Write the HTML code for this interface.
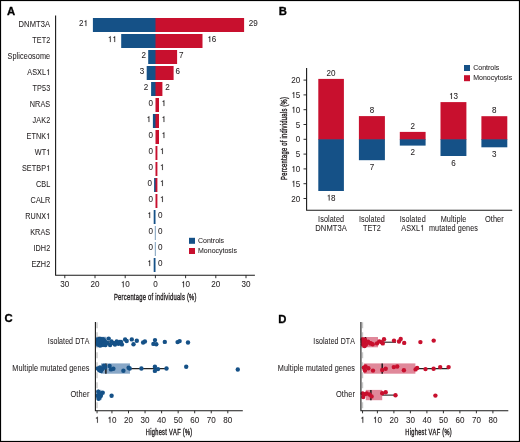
<!DOCTYPE html>
<html><head><meta charset="utf-8"><style>
html,body{margin:0;padding:0;background:#fff}
svg{display:block;will-change:transform}
text{font-family:"Liberation Sans", sans-serif;font-kerning:none;fill:#231f20;stroke:#231f20;stroke-width:0.06px}
.cond{stroke-width:0.4px}
.pl{stroke-width:0.3px;fill:#000;stroke:#000}
</style></head><body>
<svg width="520" height="442" viewBox="0 0 520 442">
<rect x="0" y="0" width="520" height="442" fill="#fff"/>
<g>
<rect x="92.90" y="18" width="63.20" height="14" fill="#155187"/>
<rect x="155.50" y="18" width="88.60" height="14" fill="#c8102e"/>
<text transform="translate(18.55 27.00) scale(0.925 1)" font-size="8.2" style="letter-spacing:0.1px">DNMT3A</text>
<text transform="translate(78.91 26.10) scale(0.962 1)" font-size="8.4">2</text>
<path d="M85.60 26.10H86.33V20.16H85.77C85.64 20.81 85.18 21.08 84.50 21.13V21.69H85.60Z" fill="#231f20" stroke="#231f20" stroke-width="0.12"/>
<text transform="translate(248.70 26.10) scale(0.962 1)" font-size="8.4">29</text>
<rect x="121.20" y="34" width="34.90" height="14" fill="#155187"/>
<rect x="155.50" y="34" width="47.00" height="14" fill="#c8102e"/>
<text transform="translate(32.19 43.00) scale(0.885 1)" font-size="8.2" style="letter-spacing:0.1px">TET2</text>
<path d="M109.91 42.10H110.64V36.16H110.07C109.94 36.81 109.49 37.08 108.80 37.13V37.69H109.91ZM114.40 42.10H115.13V36.16H114.57C114.44 36.81 113.98 37.08 113.30 37.13V37.69H114.40Z" fill="#231f20" stroke="#231f20" stroke-width="0.12"/>
<text transform="translate(211.79 42.10) scale(0.962 1)" font-size="8.4">6</text>
<path d="M209.50 42.10H210.23V36.16H209.66C209.53 36.81 209.08 37.08 208.39 37.13V37.69H209.50Z" fill="#231f20" stroke="#231f20" stroke-width="0.12"/>
<rect x="148.20" y="50" width="7.90" height="14" fill="#155187"/>
<rect x="155.50" y="50" width="21.60" height="14" fill="#c8102e"/>
<text transform="translate(7.53 59.00) scale(0.89 1)" font-size="8.2" style="letter-spacing:0.1px">Spliceosome</text>
<text transform="translate(141.51 58.10) scale(0.962 1)" font-size="8.4">2</text>
<text transform="translate(179.10 58.10) scale(0.962 1)" font-size="8.4">7</text>
<rect x="146.70" y="66" width="9.40" height="14" fill="#155187"/>
<rect x="155.50" y="66" width="18.10" height="14" fill="#c8102e"/>
<text transform="translate(27.25 75.00) scale(0.885 1)" font-size="8.2" style="letter-spacing:0.1px">ASXL</text>
<path d="M48.14 75.00H48.79V69.20H48.28C48.17 69.83 47.76 70.10 47.14 70.15V70.69H48.14Z" fill="#231f20" stroke="#231f20" stroke-width="0.12"/>
<text transform="translate(139.81 74.10) scale(0.962 1)" font-size="8.4">3</text>
<text transform="translate(175.50 74.10) scale(0.962 1)" font-size="8.4">6</text>
<rect x="151.10" y="82" width="5.00" height="14" fill="#155187"/>
<rect x="155.50" y="82" width="6.90" height="14" fill="#c8102e"/>
<text transform="translate(32.59 91.00) scale(0.885 1)" font-size="8.2" style="letter-spacing:0.1px">TP53</text>
<text transform="translate(143.81 90.10) scale(0.962 1)" font-size="8.4">2</text>
<text transform="translate(165.30 90.10) scale(0.962 1)" font-size="8.4">2</text>
<rect x="155.50" y="98" width="3.50" height="14" fill="#c8102e"/>
<text transform="translate(29.77 107.00) scale(0.885 1)" font-size="8.2" style="letter-spacing:0.1px">NRAS</text>
<text transform="translate(148.61 106.10) scale(0.962 1)" font-size="8.4">0</text>
<path d="M163.60 106.10H164.33V100.16H163.76C163.63 100.81 163.18 101.08 162.49 101.13V101.69H163.60Z" fill="#231f20" stroke="#231f20" stroke-width="0.12"/>
<rect x="152.90" y="114" width="3.20" height="14" fill="#155187"/>
<rect x="155.50" y="114" width="3.50" height="14" fill="#c8102e"/>
<text transform="translate(32.59 123.00) scale(0.885 1)" font-size="8.2" style="letter-spacing:0.1px">JAK2</text>
<path d="M148.60 122.10H149.33V116.16H148.77C148.64 116.81 148.18 117.08 147.50 117.13V117.69H148.60Z" fill="#231f20" stroke="#231f20" stroke-width="0.12"/>
<path d="M163.60 122.10H164.33V116.16H163.76C163.63 116.81 163.18 117.08 162.49 117.13V117.69H163.60Z" fill="#231f20" stroke="#231f20" stroke-width="0.12"/>
<rect x="155.50" y="130" width="3.50" height="14" fill="#c8102e"/>
<text transform="translate(26.46 139.00) scale(0.885 1)" font-size="8.2" style="letter-spacing:0.1px">ETNK</text>
<path d="M48.14 139.00H48.79V133.20H48.28C48.17 133.83 47.76 134.10 47.14 134.15V134.69H48.14Z" fill="#231f20" stroke="#231f20" stroke-width="0.12"/>
<text transform="translate(148.61 138.10) scale(0.962 1)" font-size="8.4">0</text>
<path d="M163.60 138.10H164.33V132.16H163.76C163.63 132.81 163.18 133.08 162.49 133.13V133.69H163.60Z" fill="#231f20" stroke="#231f20" stroke-width="0.12"/>
<rect x="155.50" y="146" width="1.90" height="14" fill="#c8102e"/>
<text transform="translate(34.70 155.00) scale(0.885 1)" font-size="8.2" style="letter-spacing:0.1px">WT</text>
<path d="M48.14 155.00H48.79V149.20H48.28C48.17 149.83 47.76 150.10 47.14 150.15V150.69H48.14Z" fill="#231f20" stroke="#231f20" stroke-width="0.12"/>
<text transform="translate(148.61 154.10) scale(0.962 1)" font-size="8.4">0</text>
<path d="M162.00 154.10H162.73V148.16H162.16C162.03 148.81 161.58 149.08 160.89 149.13V149.69H162.00Z" fill="#231f20" stroke="#231f20" stroke-width="0.12"/>
<rect x="155.50" y="162" width="1.90" height="14" fill="#c8102e"/>
<text transform="translate(21.93 171.00) scale(0.885 1)" font-size="8.2" style="letter-spacing:0.1px">SETBP</text>
<path d="M48.14 171.00H48.79V165.20H48.28C48.17 165.83 47.76 166.10 47.14 166.15V166.69H48.14Z" fill="#231f20" stroke="#231f20" stroke-width="0.12"/>
<text transform="translate(148.61 170.10) scale(0.962 1)" font-size="8.4">0</text>
<path d="M162.00 170.10H162.73V164.16H162.16C162.03 164.81 161.58 165.08 160.89 165.13V165.69H162.00Z" fill="#231f20" stroke="#231f20" stroke-width="0.12"/>
<rect x="154.10" y="178" width="2.00" height="14" fill="#155187"/>
<rect x="155.50" y="178" width="1.90" height="14" fill="#c8102e"/>
<text transform="translate(35.91 187.00) scale(0.885 1)" font-size="8.2" style="letter-spacing:0.1px">CBL</text>
<text transform="translate(147.41 186.10) scale(0.962 1)" font-size="8.4">0</text>
<path d="M162.00 186.10H162.73V180.16H162.16C162.03 180.81 161.58 181.08 160.89 181.13V181.69H162.00Z" fill="#231f20" stroke="#231f20" stroke-width="0.12"/>
<rect x="155.50" y="194" width="1.90" height="14" fill="#c8102e"/>
<text transform="translate(30.58 203.00) scale(0.885 1)" font-size="8.2" style="letter-spacing:0.1px">CALR</text>
<text transform="translate(148.61 202.10) scale(0.962 1)" font-size="8.4">0</text>
<path d="M162.00 202.10H162.73V196.16H162.16C162.03 196.81 161.58 197.08 160.89 197.13V197.69H162.00Z" fill="#231f20" stroke="#231f20" stroke-width="0.12"/>
<rect x="153.70" y="210" width="1.80" height="14" fill="#155187"/>
<text transform="translate(25.25 219.00) scale(0.885 1)" font-size="8.2" style="letter-spacing:0.1px">RUNX</text>
<path d="M48.14 219.00H48.79V213.20H48.28C48.17 213.83 47.76 214.10 47.14 214.15V214.69H48.14Z" fill="#231f20" stroke="#231f20" stroke-width="0.12"/>
<path d="M149.40 218.10H150.13V212.16H149.57C149.44 212.81 148.98 213.08 148.30 213.13V213.69H149.40Z" fill="#231f20" stroke="#231f20" stroke-width="0.12"/>
<text transform="translate(157.90 218.10) scale(0.962 1)" font-size="8.4">0</text>
<rect x="154.85" y="226" width="0.8" height="14" fill="#155187" opacity="0.7"/>
<text transform="translate(30.17 235.00) scale(0.885 1)" font-size="8.2" style="letter-spacing:0.1px">KRAS</text>
<text transform="translate(148.61 234.10) scale(0.962 1)" font-size="8.4">0</text>
<text transform="translate(157.90 234.10) scale(0.962 1)" font-size="8.4">0</text>
<rect x="154.85" y="242" width="0.8" height="14" fill="#155187" opacity="0.7"/>
<text transform="translate(33.40 251.00) scale(0.885 1)" font-size="8.2" style="letter-spacing:0.1px">IDH2</text>
<text transform="translate(148.61 250.10) scale(0.962 1)" font-size="8.4">0</text>
<text transform="translate(157.90 250.10) scale(0.962 1)" font-size="8.4">0</text>
<rect x="153.70" y="258" width="1.80" height="14" fill="#155187"/>
<text transform="translate(31.38 267.00) scale(0.885 1)" font-size="8.2" style="letter-spacing:0.1px">EZH2</text>
<path d="M149.40 266.10H150.13V260.16H149.57C149.44 260.81 148.98 261.08 148.30 261.13V261.69H149.40Z" fill="#231f20" stroke="#231f20" stroke-width="0.12"/>
<text transform="translate(157.90 266.10) scale(0.962 1)" font-size="8.4">0</text>
</g>
<path d="M55.6 15.5V275.2H254.9" fill="none" stroke="#1a1a1a" stroke-width="1.1"/>
<text transform="translate(60.31 287.20) scale(0.962 1)" font-size="8.4">30</text>
<text transform="translate(90.51 287.20) scale(0.962 1)" font-size="8.4">20</text>
<text transform="translate(125.20 287.20) scale(0.962 1)" font-size="8.4">0</text>
<path d="M122.90 287.20H123.63V281.26H123.07C122.94 281.91 122.48 282.18 121.80 282.23V282.79H122.90Z" fill="#231f20" stroke="#231f20" stroke-width="0.12"/>
<text transform="translate(153.15 287.20) scale(0.962 1)" font-size="8.4">0</text>
<text transform="translate(185.60 287.20) scale(0.962 1)" font-size="8.4">0</text>
<path d="M183.30 287.20H184.03V281.26H183.47C183.34 281.91 182.88 282.18 182.20 282.23V282.79H183.30Z" fill="#231f20" stroke="#231f20" stroke-width="0.12"/>
<text transform="translate(211.31 287.20) scale(0.962 1)" font-size="8.4">20</text>
<text transform="translate(241.51 287.20) scale(0.962 1)" font-size="8.4">30</text>
<path d="M64.80 275.2V278.2M95.00 275.2V278.2M125.20 275.2V278.2M155.40 275.2V278.2M185.60 275.2V278.2M215.80 275.2V278.2M246.00 275.2V278.2" stroke="#1a1a1a" stroke-width="0.9"/>
<text transform="translate(155.20 299.60) scale(0.62 1)" x="0" y="0" font-size="9.4" text-anchor="middle" textLength="133.06" lengthAdjust="spacing" class="cond">Percentage of individuals (%)</text>
<rect x="189" y="237.8" width="6" height="6" fill="#155187"/>
<rect x="189" y="248" width="6" height="6" fill="#c8102e"/>
<text transform="translate(198.00 243.10) scale(0.91 1)" font-size="7.7">Controls</text>
<text transform="translate(198.00 253.20) scale(0.91 1)" font-size="7.7">Monocytosis</text>
<text x="7.00" y="14.80" font-size="11.3" font-weight="bold" class="pl">A</text>
<text x="278.70" y="14.80" font-size="11.3" font-weight="bold" class="pl">B</text>
<path d="M306.6 67.9V210.3H512.2" fill="none" stroke="#1a1a1a" stroke-width="1.1"/>
<text transform="translate(291.31 83.10) scale(0.962 1)" font-size="8.4">20</text>
<text transform="translate(295.81 97.90) scale(0.962 1)" font-size="8.4">5</text>
<path d="M293.51 97.90H294.24V91.96H293.67C293.54 92.61 293.09 92.88 292.40 92.93V93.49H293.51Z" fill="#231f20" stroke="#231f20" stroke-width="0.12"/>
<text transform="translate(295.81 112.70) scale(0.962 1)" font-size="8.4">0</text>
<path d="M293.51 112.70H294.24V106.76H293.67C293.54 107.41 293.09 107.68 292.40 107.73V108.29H293.51Z" fill="#231f20" stroke="#231f20" stroke-width="0.12"/>
<text transform="translate(295.81 127.50) scale(0.962 1)" font-size="8.4">5</text>
<text transform="translate(295.81 142.30) scale(0.962 1)" font-size="8.4">0</text>
<text transform="translate(295.81 157.10) scale(0.962 1)" font-size="8.4">5</text>
<text transform="translate(295.81 171.90) scale(0.962 1)" font-size="8.4">0</text>
<path d="M293.51 171.90H294.24V165.96H293.67C293.54 166.61 293.09 166.88 292.40 166.93V167.49H293.51Z" fill="#231f20" stroke="#231f20" stroke-width="0.12"/>
<text transform="translate(295.81 186.70) scale(0.962 1)" font-size="8.4">5</text>
<path d="M293.51 186.70H294.24V180.76H293.67C293.54 181.41 293.09 181.68 292.40 181.73V182.29H293.51Z" fill="#231f20" stroke="#231f20" stroke-width="0.12"/>
<text transform="translate(291.31 201.50) scale(0.962 1)" font-size="8.4">20</text>
<path d="M303.5 80.10H306.6M303.5 94.90H306.6M303.5 109.70H306.6M303.5 124.50H306.6M303.5 139.30H306.6M303.5 154.10H306.6M303.5 168.90H306.6M303.5 183.70H306.6M303.5 198.50H306.6" stroke="#1a1a1a" stroke-width="0.9"/>
<text transform="translate(286.90 138.50) rotate(-90) scale(0.62 1)" x="0" y="0" font-size="9.4" text-anchor="middle" textLength="133.87" lengthAdjust="spacing" class="cond">Percentage of individuals (%)</text>
<rect x="318.3" y="78.9" width="25.60" height="61.00" fill="#c8102e"/>
<rect x="318.3" y="139.3" width="25.60" height="51.70" fill="#155187"/>
<text transform="translate(326.61 75.70) scale(0.962 1)" font-size="8.4">20</text>
<text transform="translate(331.10 200.60) scale(0.962 1)" font-size="8.4">8</text>
<path d="M328.80 200.60H329.53V194.66H328.97C328.84 195.31 328.38 195.58 327.70 195.63V196.19H328.80Z" fill="#231f20" stroke="#231f20" stroke-width="0.12"/>
<text transform="translate(318.08 221.60) scale(0.885 1)" font-size="8.2" style="letter-spacing:0.1px">Isolated</text>
<text transform="translate(315.28 230.70) scale(0.925 1)" font-size="8.2" style="letter-spacing:0.1px">DNMT3A</text>
<rect x="358.9" y="116.1" width="26.00" height="23.80" fill="#c8102e"/>
<rect x="358.9" y="139.3" width="26.00" height="20.90" fill="#155187"/>
<text transform="translate(369.65 112.90) scale(0.962 1)" font-size="8.4">8</text>
<text transform="translate(369.65 169.80) scale(0.962 1)" font-size="8.4">7</text>
<text transform="translate(358.88 221.60) scale(0.885 1)" font-size="8.2" style="letter-spacing:0.1px">Isolated</text>
<text transform="translate(362.90 230.70) scale(0.885 1)" font-size="8.2" style="letter-spacing:0.1px">TET2</text>
<rect x="399.8" y="131.9" width="25.80" height="8.00" fill="#c8102e"/>
<rect x="399.8" y="139.3" width="25.80" height="6.30" fill="#155187"/>
<text transform="translate(410.45 128.70) scale(0.962 1)" font-size="8.4">2</text>
<text transform="translate(410.45 155.20) scale(0.962 1)" font-size="8.4">2</text>
<text transform="translate(399.68 221.60) scale(0.885 1)" font-size="8.2" style="letter-spacing:0.1px">Isolated</text>
<text transform="translate(401.23 230.70) scale(0.885 1)" font-size="8.2" style="letter-spacing:0.1px">ASXL</text>
<path d="M422.11 230.70H422.76V224.90H422.26C422.14 225.53 421.73 225.80 421.12 225.85V226.39H422.11Z" fill="#231f20" stroke="#231f20" stroke-width="0.12"/>
<rect x="440.5" y="102.1" width="25.90" height="37.80" fill="#c8102e"/>
<rect x="440.5" y="139.3" width="25.90" height="16.70" fill="#155187"/>
<text transform="translate(453.45 98.90) scale(0.962 1)" font-size="8.4">3</text>
<path d="M451.15 98.90H451.88V92.96H451.32C451.19 93.61 450.73 93.88 450.05 93.93V94.49H451.15Z" fill="#231f20" stroke="#231f20" stroke-width="0.12"/>
<text transform="translate(451.20 165.60) scale(0.962 1)" font-size="8.4">6</text>
<text transform="translate(440.64 221.60) scale(0.885 1)" font-size="8.2" style="letter-spacing:0.1px">Multiple</text>
<text transform="translate(428.91 230.70) scale(0.885 1)" font-size="8.2" style="letter-spacing:0.1px">mutated genes</text>
<rect x="481.4" y="116.2" width="25.90" height="23.70" fill="#c8102e"/>
<rect x="481.4" y="139.3" width="25.90" height="8.00" fill="#155187"/>
<text transform="translate(492.10 113.00) scale(0.962 1)" font-size="8.4">8</text>
<text transform="translate(492.10 156.90) scale(0.962 1)" font-size="8.4">3</text>
<text transform="translate(484.89 221.60) scale(0.905 1)" font-size="8.2" style="letter-spacing:0.1px">Other</text>
<rect x="464" y="65" width="6" height="6" fill="#155187"/>
<rect x="464" y="75.2" width="6" height="6" fill="#c8102e"/>
<text transform="translate(473.20 70.30) scale(0.91 1)" font-size="7.7">Controls</text>
<text transform="translate(473.20 80.25) scale(0.91 1)" font-size="7.7">Monocytosis</text>
<text x="4.60" y="322.00" font-size="11.3" font-weight="bold" class="pl">C</text>
<path d="M97.00 322.2V410.5" stroke="#c8c8c8" stroke-width="1.4" stroke-dasharray="6 4"/>
<rect x="96.20" y="336.80" width="10.30" height="10.3" fill="#88a7c7"/>
<path d="M106.50 342.00H123.00" stroke="#222" stroke-width="1.1"/>
<path d="M99.10 336.80V347.10" stroke="#111" stroke-width="1.4"/>
<circle cx="97.50" cy="339.50" r="2.2" fill="#155187"/>
<circle cx="98.00" cy="344.50" r="2.2" fill="#155187"/>
<circle cx="99.50" cy="342.00" r="2.2" fill="#155187"/>
<circle cx="100.50" cy="339.00" r="2.2" fill="#155187"/>
<circle cx="101.50" cy="345.00" r="2.2" fill="#155187"/>
<circle cx="102.50" cy="341.50" r="2.2" fill="#155187"/>
<circle cx="103.50" cy="343.50" r="2.2" fill="#155187"/>
<circle cx="104.50" cy="340.50" r="2.2" fill="#155187"/>
<circle cx="105.50" cy="345.00" r="2.2" fill="#155187"/>
<circle cx="98.50" cy="341.00" r="2.2" fill="#155187"/>
<circle cx="100.00" cy="345.50" r="2.2" fill="#155187"/>
<circle cx="103.00" cy="339.30" r="2.2" fill="#155187"/>
<circle cx="106.00" cy="342.50" r="2.2" fill="#155187"/>
<circle cx="104.00" cy="344.80" r="2.2" fill="#155187"/>
<circle cx="97.20" cy="342.50" r="2.2" fill="#155187"/>
<circle cx="108.70" cy="338.60" r="2.2" fill="#155187"/>
<circle cx="110.10" cy="345.00" r="2.2" fill="#155187"/>
<circle cx="111.50" cy="341.50" r="2.2" fill="#155187"/>
<circle cx="113.80" cy="343.20" r="2.2" fill="#155187"/>
<circle cx="116.70" cy="341.50" r="2.2" fill="#155187"/>
<circle cx="118.50" cy="343.80" r="2.2" fill="#155187"/>
<circle cx="121.90" cy="344.40" r="2.2" fill="#155187"/>
<circle cx="121.00" cy="342.00" r="2.2" fill="#155187"/>
<circle cx="125.10" cy="339.40" r="2.2" fill="#155187"/>
<circle cx="126.70" cy="341.00" r="2.2" fill="#155187"/>
<circle cx="131.80" cy="339.40" r="2.2" fill="#155187"/>
<circle cx="133.50" cy="344.20" r="2.2" fill="#155187"/>
<circle cx="136.80" cy="340.80" r="2.2" fill="#155187"/>
<circle cx="143.10" cy="342.50" r="2.2" fill="#155187"/>
<circle cx="144.90" cy="341.50" r="2.2" fill="#155187"/>
<circle cx="155.00" cy="340.10" r="2.2" fill="#155187"/>
<circle cx="153.40" cy="343.90" r="2.2" fill="#155187"/>
<circle cx="156.30" cy="344.20" r="2.2" fill="#155187"/>
<circle cx="164.80" cy="341.90" r="2.2" fill="#155187"/>
<circle cx="177.60" cy="342.10" r="2.2" fill="#155187"/>
<circle cx="179.60" cy="341.10" r="2.2" fill="#155187"/>
<circle cx="188.00" cy="342.50" r="2.2" fill="#155187"/>
<circle cx="107.30" cy="343.00" r="2.2" fill="#155187"/>
<circle cx="115.00" cy="344.50" r="2.2" fill="#155187"/>
<circle cx="119.80" cy="342.00" r="2.2" fill="#155187"/>
<rect x="101.00" y="363.40" width="29.00" height="10.3" fill="#88a7c7"/>
<path d="M130.00 368.60H166.60" stroke="#222" stroke-width="1.1"/>
<path d="M105.90 363.40V373.70" stroke="#111" stroke-width="1.4"/>
<circle cx="97.80" cy="368.50" r="2.2" fill="#155187"/>
<circle cx="99.30" cy="370.30" r="2.2" fill="#155187"/>
<circle cx="101.00" cy="371.00" r="2.2" fill="#155187"/>
<circle cx="102.30" cy="369.00" r="2.2" fill="#155187"/>
<circle cx="100.00" cy="367.50" r="2.2" fill="#155187"/>
<circle cx="104.00" cy="365.60" r="2.2" fill="#155187"/>
<circle cx="105.00" cy="367.50" r="2.2" fill="#155187"/>
<circle cx="109.60" cy="366.00" r="2.2" fill="#155187"/>
<circle cx="111.00" cy="369.40" r="2.2" fill="#155187"/>
<circle cx="113.40" cy="368.70" r="2.2" fill="#155187"/>
<circle cx="123.40" cy="370.80" r="2.2" fill="#155187"/>
<circle cx="128.60" cy="367.70" r="2.2" fill="#155187"/>
<circle cx="129.70" cy="368.50" r="2.2" fill="#155187"/>
<circle cx="141.40" cy="368.50" r="2.2" fill="#155187"/>
<circle cx="154.90" cy="366.80" r="2.2" fill="#155187"/>
<circle cx="154.90" cy="370.90" r="2.2" fill="#155187"/>
<circle cx="158.00" cy="369.10" r="2.2" fill="#155187"/>
<circle cx="166.50" cy="368.50" r="2.2" fill="#155187"/>
<circle cx="186.20" cy="366.80" r="2.2" fill="#155187"/>
<circle cx="237.80" cy="369.50" r="2.2" fill="#155187"/>
<rect x="96.50" y="389.80" width="5.00" height="10.3" fill="#88a7c7"/>
<path d="M98.40 389.80V400.10" stroke="#111" stroke-width="1.4"/>
<circle cx="98.30" cy="391.80" r="2.2" fill="#155187"/>
<circle cx="102.70" cy="392.70" r="2.2" fill="#155187"/>
<circle cx="97.50" cy="395.80" r="2.2" fill="#155187"/>
<circle cx="100.90" cy="395.80" r="2.2" fill="#155187"/>
<circle cx="98.60" cy="398.70" r="2.2" fill="#155187"/>
<circle cx="100.00" cy="393.50" r="2.2" fill="#155187"/>
<circle cx="99.50" cy="397.50" r="2.2" fill="#155187"/>
<circle cx="111.60" cy="395.80" r="2.2" fill="#155187"/>
<path d="M95.40 322.1V410.8H242.80" fill="none" stroke="#1a1a1a" stroke-width="1.1"/>
<path d="M97.01 422.80H97.73V416.86H97.17C97.04 417.51 96.59 417.78 95.90 417.83V418.39H97.01Z" fill="#231f20" stroke="#231f20" stroke-width="0.12"/>
<text transform="translate(111.95 422.80) scale(0.962 1)" font-size="8.4">0</text>
<path d="M109.65 422.80H110.38V416.86H109.82C109.69 417.51 109.23 417.78 108.55 417.83V418.39H109.65Z" fill="#231f20" stroke="#231f20" stroke-width="0.12"/>
<text transform="translate(124.01 422.80) scale(0.962 1)" font-size="8.4">20</text>
<text transform="translate(140.56 422.80) scale(0.962 1)" font-size="8.4">30</text>
<text transform="translate(157.11 422.80) scale(0.962 1)" font-size="8.4">40</text>
<text transform="translate(173.66 422.80) scale(0.962 1)" font-size="8.4">50</text>
<text transform="translate(190.21 422.80) scale(0.962 1)" font-size="8.4">60</text>
<text transform="translate(206.76 422.80) scale(0.962 1)" font-size="8.4">70</text>
<text transform="translate(223.31 422.80) scale(0.962 1)" font-size="8.4">80</text>
<path d="M97.06 410.8V413.3M111.95 410.8V413.3M128.50 410.8V413.3M145.05 410.8V413.3M161.60 410.8V413.3M178.15 410.8V413.3M194.70 410.8V413.3M211.25 410.8V413.3M227.80 410.8V413.3" stroke="#1a1a1a" stroke-width="0.9"/>
<text transform="translate(169.00 435.10) scale(0.66 1)" x="0" y="0" font-size="8.6" text-anchor="middle" textLength="70.45" lengthAdjust="spacing" class="cond">Highest VAF (%)</text>
<text transform="translate(47.84 344.10) scale(0.857 1)" font-size="8.2" style="letter-spacing:0.1px">Isolated DTA</text>
<text transform="translate(12.34 370.80) scale(0.887 1)" font-size="8.2" style="letter-spacing:0.1px">Multiple mutated genes</text>
<text transform="translate(70.48 397.40) scale(0.905 1)" font-size="8.2" style="letter-spacing:0.1px">Other</text>
<text x="278.20" y="322.50" font-size="11.3" font-weight="bold" class="pl">D</text>
<path d="M362.50 322.2V410.5" stroke="#c8c8c8" stroke-width="1.4" stroke-dasharray="6 4"/>
<rect x="361.50" y="337.00" width="16.50" height="10.3" fill="#e0889a"/>
<path d="M378.00 342.20H396.00" stroke="#222" stroke-width="1.1"/>
<path d="M365.50 337.00V347.30" stroke="#111" stroke-width="1.4"/>
<circle cx="362.50" cy="339.50" r="2.2" fill="#c8102e"/>
<circle cx="363.00" cy="344.50" r="2.2" fill="#c8102e"/>
<circle cx="364.00" cy="342.00" r="2.2" fill="#c8102e"/>
<circle cx="365.00" cy="339.80" r="2.2" fill="#c8102e"/>
<circle cx="366.00" cy="344.50" r="2.2" fill="#c8102e"/>
<circle cx="362.80" cy="342.00" r="2.2" fill="#c8102e"/>
<circle cx="364.50" cy="346.00" r="2.2" fill="#c8102e"/>
<circle cx="368.10" cy="341.70" r="2.2" fill="#c8102e"/>
<circle cx="371.00" cy="343.40" r="2.2" fill="#c8102e"/>
<circle cx="372.70" cy="344.30" r="2.2" fill="#c8102e"/>
<circle cx="377.00" cy="343.40" r="2.2" fill="#c8102e"/>
<circle cx="379.30" cy="341.40" r="2.2" fill="#c8102e"/>
<circle cx="381.70" cy="342.20" r="2.2" fill="#c8102e"/>
<circle cx="384.00" cy="339.30" r="2.2" fill="#c8102e"/>
<circle cx="382.80" cy="343.40" r="2.2" fill="#c8102e"/>
<circle cx="370.10" cy="343.30" r="2.2" fill="#c8102e"/>
<circle cx="394.00" cy="340.60" r="2.2" fill="#c8102e"/>
<circle cx="399.00" cy="341.50" r="2.2" fill="#c8102e"/>
<circle cx="400.70" cy="339.00" r="2.2" fill="#c8102e"/>
<circle cx="404.20" cy="342.90" r="2.2" fill="#c8102e"/>
<circle cx="420.40" cy="342.10" r="2.2" fill="#c8102e"/>
<circle cx="433.70" cy="340.60" r="2.2" fill="#c8102e"/>
<rect x="363.80" y="363.40" width="51.60" height="10.3" fill="#e0889a"/>
<path d="M415.40 368.60H448.60" stroke="#222" stroke-width="1.1"/>
<path d="M382.20 363.40V373.70" stroke="#111" stroke-width="1.4"/>
<circle cx="363.80" cy="367.70" r="2.2" fill="#c8102e"/>
<circle cx="365.50" cy="366.50" r="2.2" fill="#c8102e"/>
<circle cx="364.90" cy="370.60" r="2.2" fill="#c8102e"/>
<circle cx="368.40" cy="368.30" r="2.2" fill="#c8102e"/>
<circle cx="373.00" cy="370.60" r="2.2" fill="#c8102e"/>
<circle cx="382.20" cy="370.00" r="2.2" fill="#c8102e"/>
<circle cx="385.70" cy="368.80" r="2.2" fill="#c8102e"/>
<circle cx="393.80" cy="367.10" r="2.2" fill="#c8102e"/>
<circle cx="397.20" cy="366.50" r="2.2" fill="#c8102e"/>
<circle cx="403.90" cy="370.20" r="2.2" fill="#c8102e"/>
<circle cx="415.60" cy="369.40" r="2.2" fill="#c8102e"/>
<circle cx="417.10" cy="367.90" r="2.2" fill="#c8102e"/>
<circle cx="425.50" cy="369.10" r="2.2" fill="#c8102e"/>
<circle cx="433.60" cy="368.80" r="2.2" fill="#c8102e"/>
<circle cx="440.20" cy="367.10" r="2.2" fill="#c8102e"/>
<circle cx="448.60" cy="367.10" r="2.2" fill="#c8102e"/>
<rect x="365.80" y="389.90" width="16.40" height="10.3" fill="#e0889a"/>
<path d="M382.20 395.10H395.50" stroke="#222" stroke-width="1.1"/>
<path d="M370.90 389.90V400.20" stroke="#111" stroke-width="1.4"/>
<circle cx="362.60" cy="393.50" r="2.2" fill="#c8102e"/>
<circle cx="363.20" cy="397.00" r="2.2" fill="#c8102e"/>
<circle cx="364.80" cy="394.30" r="2.2" fill="#c8102e"/>
<circle cx="366.70" cy="393.50" r="2.2" fill="#c8102e"/>
<circle cx="369.50" cy="394.50" r="2.2" fill="#c8102e"/>
<circle cx="371.60" cy="396.40" r="2.2" fill="#c8102e"/>
<circle cx="382.20" cy="393.30" r="2.2" fill="#c8102e"/>
<circle cx="385.70" cy="392.20" r="2.2" fill="#c8102e"/>
<circle cx="395.50" cy="395.30" r="2.2" fill="#c8102e"/>
<circle cx="435.40" cy="395.60" r="2.2" fill="#c8102e"/>
<path d="M360.90 322.1V410.8H508.30" fill="none" stroke="#1a1a1a" stroke-width="1.1"/>
<path d="M362.50 422.80H363.23V416.86H362.66C362.53 417.51 362.08 417.78 361.39 417.83V418.39H362.50Z" fill="#231f20" stroke="#231f20" stroke-width="0.12"/>
<text transform="translate(377.40 422.80) scale(0.962 1)" font-size="8.4">0</text>
<path d="M375.10 422.80H375.83V416.86H375.27C375.14 417.51 374.68 417.78 374.00 417.83V418.39H375.10Z" fill="#231f20" stroke="#231f20" stroke-width="0.12"/>
<text transform="translate(389.41 422.80) scale(0.962 1)" font-size="8.4">20</text>
<text transform="translate(405.91 422.80) scale(0.962 1)" font-size="8.4">30</text>
<text transform="translate(422.41 422.80) scale(0.962 1)" font-size="8.4">40</text>
<text transform="translate(438.91 422.80) scale(0.962 1)" font-size="8.4">50</text>
<text transform="translate(455.41 422.80) scale(0.962 1)" font-size="8.4">60</text>
<text transform="translate(471.91 422.80) scale(0.962 1)" font-size="8.4">70</text>
<text transform="translate(488.41 422.80) scale(0.962 1)" font-size="8.4">80</text>
<path d="M362.55 410.8V413.3M377.40 410.8V413.3M393.90 410.8V413.3M410.40 410.8V413.3M426.90 410.8V413.3M443.40 410.8V413.3M459.90 410.8V413.3M476.40 410.8V413.3M492.90 410.8V413.3" stroke="#1a1a1a" stroke-width="0.9"/>
<text transform="translate(428.50 435.10) scale(0.66 1)" x="0" y="0" font-size="8.6" text-anchor="middle" textLength="70.45" lengthAdjust="spacing" class="cond">Highest VAF (%)</text>
<text transform="translate(313.34 344.10) scale(0.857 1)" font-size="8.2" style="letter-spacing:0.1px">Isolated DTA</text>
<text transform="translate(277.84 370.80) scale(0.887 1)" font-size="8.2" style="letter-spacing:0.1px">Multiple mutated genes</text>
<text transform="translate(335.98 397.40) scale(0.905 1)" font-size="8.2" style="letter-spacing:0.1px">Other</text>
<rect x="0.5" y="0.5" width="519" height="441" fill="none" stroke="#000" stroke-width="1.2"/>
</svg>
</body></html>
